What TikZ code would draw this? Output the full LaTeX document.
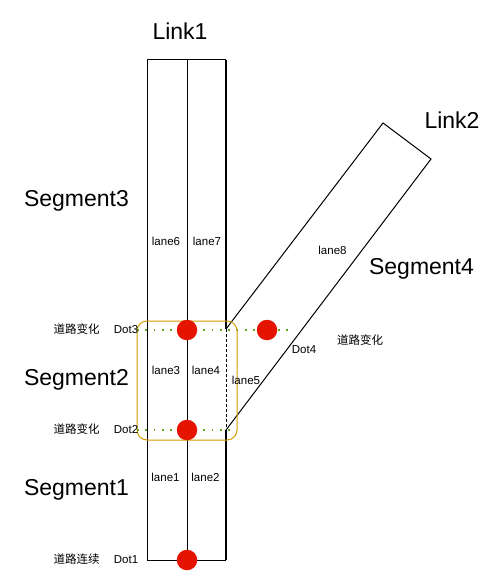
\documentclass[tikz,border=0pt]{standalone}
\usepackage{fontspec}
\setmainfont{Liberation Sans}
\newfontfamily\cjk{Noto Sans CJK SC}
\definecolor{dotred}{HTML}{E51400}
\definecolor{boxorange}{HTML}{D79B00}
\definecolor{dotgreen}{HTML}{60A917}
\begin{document}
\begin{tikzpicture}[x=1pt,y=-1pt,
  big/.style={font=\fontsize{23}{25}\selectfont, inner sep=0pt},
  small/.style={font=\fontsize{11.5}{13}\selectfont, inner sep=0pt},
  cn/.style={font=\cjk\fontsize{11.5}{13}\selectfont, inner sep=0pt},
  road/.style={line width=1pt, black},
  thickedge/.style={line width=1.6pt, black},
  greendot/.style={dotgreen, line width=1.6pt, dash pattern=on 1.6pt off 6.7pt},
  reddot/.style={circle, fill=dotred, draw=none, minimum size=20.5pt, inner sep=0pt},
  zone/.style={draw=boxorange, line width=1pt, rounded corners=10pt}
]
\useasboundingbox (0,0) rectangle (503,588);
% Link1 geometry
\coordinate (tl) at (147,60);
\coordinate (bl) at (147,560);
\coordinate (tr) at (226,60);
\coordinate (br) at (226,560);
\coordinate (ct) at (187,60);
\coordinate (cb) at (187,560);
\coordinate (r3) at (226,329);
\coordinate (r2) at (226,430);
% Link2 geometry
\coordinate (l2top) at (383,123);
\coordinate (l2right) at (431,159);
% Link1 outline
\draw[road] (tr) -- (tl) -- (bl) -- (br);
\draw[thickedge] (tr) -- (r3);
\draw[thickedge] (r2) -- (br);
\draw[line width=0.8pt, dash pattern=on 3pt off 2pt] (r3) -- (r2);
\draw[road] (ct) -- (cb);
% Link2 outline
\draw[road] (r3) -- (l2top) -- (l2right) -- (r2);
% orange zone
\draw[zone] (137,321) rectangle (237,440);
% green dotted lines
\coordinate (g3a) at (137,330);
\coordinate (g3b) at (294,330);
\coordinate (g2a) at (137,430);
\coordinate (g2b) at (231,430);
\draw[greendot] (g3a) -- (g3b);
\draw[greendot] (g2a) -- (g2b);
% red dots
\node[reddot] (d3) at (187,330) {};
\node[reddot] (d2) at (187,430) {};
\node[reddot] (d1) at (187,560) {};
\node[reddot] (d4) at (267,330) {};
% big labels
\node[big] (link1) at (180,31) {Link1};
\node[big] (link2) at (452,120) {Link2};
\node[big] (seg3) at (76.5,201) {Segment3};
\node[big] (seg2) at (76.5,380) {Segment2};
\node[big] (seg1) at (76.5,490) {Segment1};
\node[big] (seg4) at (421.5,269) {Segment4};
% lane labels
\node[small] (lane6) at (166,241) {lane6};
\node[small] (lane7) at (207,241) {lane7};
\node[small] (lane8) at (332.5,250) {lane8};
\node[small] (lane3) at (166,370.5) {lane3};
\node[small] (lane4) at (206,370.5) {lane4};
\node[small] (lane5) at (246,380) {lane5};
\node[small] (lane1) at (165.5,477) {lane1};
\node[small] (lane2) at (205.5,477) {lane2};
% dot labels
\node[small] (dot3) at (126,330) {Dot3};
\node[small] (dot2) at (126,430) {Dot2};
\node[small] (dot1) at (126,560) {Dot1};
\node[small] (dot4) at (304,350) {Dot4};
\node[cn] (c3) at (76.5,329.5) {道路变化};
\node[cn] (c2) at (76.5,429.5) {道路变化};
\node[cn] (c1) at (76.5,559.5) {道路连续};
\node[cn] (c4) at (360,340) {道路变化};
\end{tikzpicture}
\end{document}
